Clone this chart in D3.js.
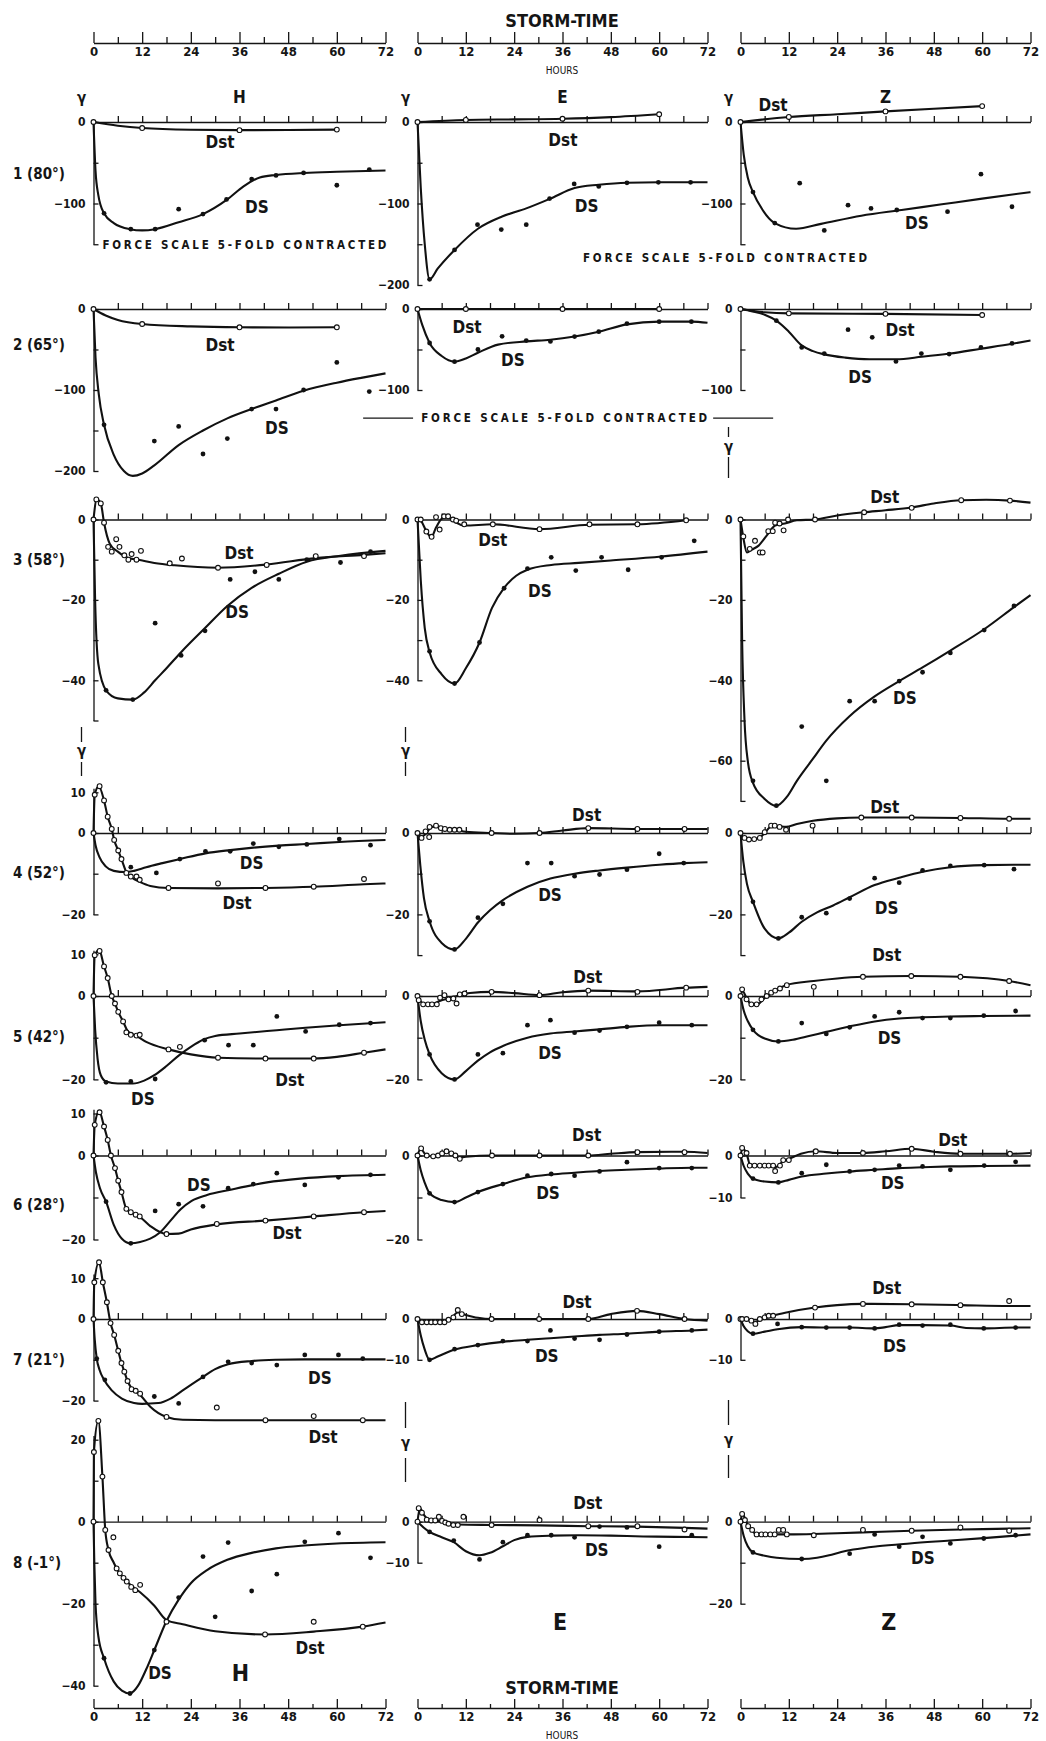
<!DOCTYPE html>
<html lang="en">
<head>
<meta charset="UTF-8" />
<title>Storm-time variation DS and Dst</title>
<style>
  body { margin: 0; background: #fff; }
  svg { display: block; background: #fff; }
  text {
    font-family: "DejaVu Sans Condensed", "Liberation Sans Narrow", "DejaVu Sans", sans-serif;
    font-stretch: condensed;
    fill: #151515;
  }
  .b { font-weight: bold; }
  .axis path, .axis line { stroke: #151515; stroke-width: 1.3; fill: none; }
  .curve { fill: none; stroke: #111; stroke-width: 2.1; stroke-linejoin: round; }
  .dot { fill: #111; }
  .ring { fill: #fff; stroke: #111; stroke-width: 1.1; }
</style>
</head>
<body>
<svg width="1046" height="1741"></svg>
<script src="https://d3js.org/d3.v7.min.js"></script>
<script>
// ---- tick labels / categories ----
const hourTicks = [0, 12, 24, 36, 48, 60, 72];
const halfTicks = [6, 18, 30, 42, 54, 66];
const zeroTicks = [6, 12, 18, 24, 30, 36, 42, 48, 54, 60, 66, 72];
const compNames = ["H", "E", "Z"];
const stationLabels = ["1 (80°)", "2 (65°)", "3 (58°)", "4 (52°)", "5 (42°)", "6 (28°)", "7 (21°)", "8 (-1°)"];

// ---- values [storm-time hours, gamma] ----
// station 1 (80°)
const dst_H1 = [[0,0],[6,-4.5],[12,-7.4],[24,-9.5],[36,-10],[48,-9.8],[60,-9.3]];
const dstPts_H1 = [[0,0],[12,-7.4],[36,-10],[60,-9.3]];
const ds_H1 = [[0,0],[0.5,-60],[1.2,-90],[2.6,-112],[5,-124],[9,-131.5],[12,-133],[15.2,-131.5],[21,-123],[27,-113],[33,-95],[37,-79],[41,-68],[45,-65],[52,-62.5],[60,-61],[72,-59.5]];
const dsPts_H1 = [[2.6,-112],[9.2,-131.5],[15.2,-131.5],[21,-107],[27,-113],[32.8,-95],[39,-70],[45,-65.5],[51.8,-62.5],[60,-77.6],[68,-58.4]];
const dst_E1 = [[0,0],[12,2.5],[24,3.2],[36,4],[48,6],[60,9.5]];
const dstPts_E1 = [[0,0],[12,2.5],[36,4],[60,9.5]];
const ds_E1 = [[0,0],[0.8,-80],[1.8,-150],[3,-193],[5,-180],[9.2,-157],[15,-131],[21,-116],[27,-106],[33,-94],[39,-81],[45,-77],[52,-74.5],[60,-74],[72,-74]];
const dsPts_E1 = [[3,-193],[9.2,-157],[14.9,-126],[20.8,-132],[27,-126],[32.8,-94],[38.9,-76],[45,-79],[52,-74.6],[59.8,-74],[67.8,-74]];
const dst_Z1 = [[0,0],[12,6.2],[24,9.5],[36,13],[48,16.3],[60,19.5]];
const dstPts_Z1 = [[0,0],[12,6.2],[36,13],[60,19.5]];
const ds_Z1 = [[0,0],[0.8,-40],[1.8,-68],[3.1,-86],[5.5,-108],[8.5,-124],[13.8,-131],[20,-125],[30,-115],[40,-108],[50,-101],[60,-94],[72,-86]];
const dsPts_Z1 = [[3.1,-86],[8.5,-124],[14.7,-75],[20.8,-133],[26.7,-102],[32.4,-106],[38.8,-108],[51.4,-110],[59.7,-64],[67.4,-104]];
// station 2 (65°)
const dst_H2 = [[0,0],[3,-8],[6,-13.5],[12,-18.5],[24,-21.5],[36,-22.6],[48,-22.8],[60,-22.6]];
const dstPts_H2 = [[0,0],[12,-18.5],[36,-22.6],[60,-22.6]];
const ds_H2 = [[0,0],[0.5,-60],[1.3,-105],[2.6,-143],[5,-180],[7.5,-200],[9.7,-206],[12,-203],[15,-193],[21,-168],[27,-150],[33,-135],[39,-123.5],[45,-113],[51.8,-101],[60,-91],[66,-85],[72,-79.5]];
const dsPts_H2 = [[2.6,-143],[15,-163],[21,-145],[27,-179],[33,-160],[39,-123.5],[45,-123.5],[51.8,-100],[60,-66],[68,-102]];
const dst_E2 = [[0,0],[12,0],[36,0],[60,0]];
const dstPts_E2 = [[0,0],[12,0],[36,0],[60,0]];
const ds_E2 = [[0,0],[1.2,-20],[3,-42],[6,-58],[9.2,-65],[12,-61],[15,-54],[20,-44],[27,-40],[33,-38],[39,-34],[45,-28],[52,-19],[60,-15.6],[68,-15.6],[72,-17]];
const dsPts_E2 = [[3,-42],[9.2,-65],[15,-50],[21,-33.7],[27,-39],[33,-40],[39,-34],[45,-28],[52,-18],[60,-15.6],[68,-15.6]];
const dst_Z2 = [[0,0],[6,-4],[12,-5.4],[36,-6],[60,-7.4]];
const dstPts_Z2 = [[0,0],[12,-5.4],[36,-6],[60,-7.4]];
const ds_Z2 = [[0,0],[3,-3],[6,-7],[8.9,-14.4],[12,-28],[15.2,-45],[18,-52],[20.8,-56],[26,-60],[32,-62],[38.6,-62],[45,-59],[52,-55],[59.7,-49],[67.4,-43],[72,-39]];
const dsPts_Z2 = [[8.9,-14.4],[15.2,-47.4],[20.8,-55],[26.7,-25.5],[32.7,-35],[38.6,-64.7],[44.9,-55],[51.8,-55.6],[59.7,-47.4],[67.4,-42.5]];
// station 3 (58°)
const dst_H3 = [[0,0],[0.8,5],[1.8,4],[2.6,-0.8],[4,-6],[6,-8],[8.6,-9.6],[11,-10],[15,-10.8],[20,-11.4],[30.7,-12],[42.7,-11.2],[54.8,-9.6],[66.7,-8.8],[72,-8.4]];
const dstPts_H3 = [[0,0],[0.7,5],[1.8,4],[2.6,-0.8],[3.6,-6.8],[4.5,-8],[5.6,-4.9],[6.4,-6.8],[7.6,-8.9],[8.6,-10],[9.4,-8.6],[10.6,-10],[11.7,-7.8],[18.8,-10.9],[21.8,-9.7],[30.7,-12],[42.7,-11.3],[54.8,-9.1],[66.7,-9.1]];
const ds_H3 = [[0,0],[0.4,-20],[1.2,-36],[3.1,-42.5],[6,-44.5],[9.7,-44.8],[12.5,-43],[15.2,-40],[18,-37],[21.6,-33],[27.5,-27],[33,-21.5],[39,-17],[45.7,-13.5],[52.6,-10.5],[60.9,-9],[72,-7.8]];
const dsPts_H3 = [[3.1,-42.5],[9.7,-44.8],[15.2,-25.8],[21.6,-33.8],[27.5,-27.7],[33.7,-14.9],[39.8,-13],[45.7,-14.9],[52.6,-10],[60.9,-10.7],[68.3,-8]];
const dst_E3 = [[0,0],[0.8,-0.3],[2,-2.5],[3.4,-4.4],[4.6,-2],[6.6,0.7],[8.3,0.2],[9.6,-0.8],[11.6,-1.5],[18.7,-1.2],[30.3,-2.4],[42.7,-1.3],[54.6,-1.2],[66.7,-0.2]];
const dstPts_E3 = [[0,0],[0.8,0],[2.2,-3],[3.5,-4.3],[4.6,0.6],[5.5,-2.5],[6.6,0.8],[7.6,0.8],[8.8,0],[9.6,-0.3],[11.6,-1.2],[18.7,-1.2],[30.3,-2.4],[42.7,-1.2],[54.6,-1.2],[66.7,-0.2]];
const ds_E3 = [[0,0],[0.8,-15],[1.8,-27],[3,-33],[6,-38.5],[9.2,-40.8],[12,-37],[15.4,-30.6],[18.5,-22],[21.5,-17],[24.5,-14],[27.3,-12.5],[33.2,-11.3],[40,-10.8],[48,-10.2],[60.6,-9.2],[72,-8]];
const dsPts_E3 = [[3,-32.8],[9.2,-40.8],[15.4,-30.6],[21.5,-17.1],[27.3,-12.2],[33.2,-9.4],[39.3,-12.7],[45.7,-9.4],[52.3,-12.5],[60.6,-9.4],[68.7,-5.3]];
const dst_Z3 = [[0,0],[0.7,-4.5],[1.6,-8.2],[2.8,-7.5],[4.5,-6.5],[6.5,-4],[8.6,-1.5],[11,-1],[14,-0.2],[18.5,0],[24,1],[30.7,1.8],[36,2.3],[42.5,3],[48,4],[54.8,4.8],[61,4.9],[66.9,4.7],[72,4.2]];
const dstPts_Z3 = [[0,0],[0.7,-4.2],[2.3,-7.3],[3.6,-5.3],[4.8,-8.2],[5.5,-8.2],[6.9,-2.9],[8,-2.9],[8.6,-0.8],[9.7,-1],[10.7,-2.7],[11.8,0],[18.5,0],[30.7,1.8],[42.5,2.9],[54.8,4.8],[66.9,4.7]];
const ds_Z3 = [[0,0],[0.4,-30],[1,-50],[1.8,-60],[3.1,-65.5],[6,-69.5],[8.9,-71.2],[11.5,-69],[14,-65],[18,-59.5],[21.3,-55],[27,-49],[33.3,-44],[39.4,-40.2],[45.2,-36.8],[52.1,-32.6],[60.5,-27.3],[67.9,-21.8],[72,-18.8]];
const dsPts_Z3 = [[3.1,-65],[8.9,-71.2],[15.2,-51.5],[21.3,-65],[27.1,-45.2],[33.3,-45.2],[39.4,-40.2],[45.2,-38],[52.1,-33.2],[60.5,-27.5],[67.9,-21.5]];
// station 4 (52°)
const dst_H4 = [[0,0],[0.3,9.4],[1.3,11.5],[2.6,8],[3.5,4],[4.5,1],[5.1,-1.7],[6.1,-4.3],[6.9,-6.4],[8.1,-9.6],[9.5,-11],[11.4,-12],[14,-13],[18.5,-13.5],[30.7,-13.6],[42.4,-13.5],[54.3,-13.2],[66.7,-12.6],[72,-12.4]];
const dstPts_H4 = [[0,0],[0.3,9.4],[1.5,11.5],[2.6,8],[3.5,4],[4.5,1],[5.1,-1.7],[6.1,-4.3],[6.9,-6.4],[8.1,-9.8],[9.2,-10.7],[10.6,-10.7],[11.4,-11.5],[18.5,-13.5],[30.7,-12.4],[42.4,-13.5],[54.3,-13.2],[66.7,-11.3]];
const ds_H4 = [[0,0],[0.5,-3],[1.5,-6],[3,-8.2],[5,-9.3],[8,-9.6],[10,-9.3],[13,-8.4],[17,-7.4],[21.3,-6.4],[27.6,-5],[33.7,-4.2],[39.4,-3.6],[45.7,-3.1],[52.6,-2.7],[60.6,-2.2],[72,-1.7]];
const dsPts_H4 = [[9.2,-8.4],[15.5,-9.8],[21.3,-6.4],[27.6,-4.5],[33.7,-4.5],[39.4,-2.6],[45.7,-3.4],[52.6,-2.8],[60.6,-1.5],[68.3,-3]];
const dst_E4 = [[0,0],[1,-0.8],[2,-0.3],[3.5,1.5],[5,1.6],[7,1],[9.5,0.8],[12,0.3],[18.4,0],[24,-0.2],[30.3,0],[36,0.6],[42.4,1.2],[54.6,1],[66.3,1],[72,1]];
const dstPts_E4 = [[0,0],[1,-1.2],[2,0.4],[2.9,-1],[3,1.5],[4.6,1.8],[5.8,1.2],[6.8,1],[8,0.8],[9.2,0.8],[10.4,0.8],[18.4,0],[30.3,0],[42.4,1.2],[54.6,1],[66.3,1]];
const ds_E4 = [[0,0],[0.7,-8],[1.6,-16],[3,-21.7],[6,-27],[9.2,-28.6],[12,-26],[15,-22],[18,-19],[21.2,-16.5],[27.3,-13.2],[33,-11.2],[39,-10],[45.2,-9.2],[52,-8.5],[60,-7.8],[66.1,-7.4],[72,-7.2]];
const dsPts_E4 = [[3,-21.7],[9.2,-28.6],[15,-20.8],[21.2,-17.4],[27.3,-7.4],[33.2,-7.4],[39,-10.6],[45.2,-10.2],[52,-9],[60,-5.1],[66.1,-7.4]];
const dst_Z4 = [[0,0],[0.8,-1.2],[2,-1.6],[3.5,-1.5],[4.8,-1.1],[6,0],[7.6,1.6],[9,1.7],[11.3,1.5],[14,2.2],[18,3],[24,3.6],[30,3.8],[42.5,3.8],[54.6,3.7],[66.7,3.5],[72,3.5]];
const dstPts_Z4 = [[0,0],[1,-1.2],[2.1,-1.6],[3.4,-1.5],[4.8,-1.2],[6,0.2],[7.6,1.8],[8.5,1.8],[9.7,1.5],[11.3,0.8],[17.9,1.8],[30,3.8],[42.5,3.8],[54.6,3.7],[66.7,3.5]];
const ds_Z4 = [[0,0],[0.7,-7],[1.6,-12.5],[3.1,-16.9],[6,-23.5],[9.4,-25.9],[12,-24.5],[15.2,-21.8],[19,-19.5],[23,-17.8],[27.1,-15.8],[33.3,-12.8],[39.4,-11],[45.2,-9.5],[52.1,-8.4],[60.5,-7.9],[67.9,-7.8],[72,-7.8]];
const dsPts_Z4 = [[3.1,-16.9],[9.4,-25.9],[15.2,-20.7],[21.3,-19.7],[27.1,-16.1],[33.3,-11.1],[39.4,-12.2],[45.2,-9.2],[52.1,-8.1],[60.5,-7.9],[67.9,-8.9]];
// station 5 (42°)
const dst_H5 = [[0,0],[0.3,9.8],[1.4,11],[2.6,7.1],[3.5,4.3],[4.5,0],[5.3,-1.8],[6.1,-3.8],[7.3,-6.1],[8.5,-8.5],[10.5,-9.5],[13,-11],[18.5,-12.8],[24,-14],[30.7,-14.8],[42.4,-15],[54.3,-15],[60,-14.6],[66.7,-13.6],[72,-12.8]];
const dstPts_H5 = [[0,0],[0.3,9.8],[1.5,10.8],[2.6,7.1],[3.5,4.3],[4.5,0],[5.3,-1.8],[6.1,-3.8],[7.3,-6.1],[8.1,-8.7],[9.2,-9.3],[10.6,-9.5],[11.4,-9.3],[18.5,-12.8],[21.3,-12.2],[30.7,-14.8],[42.4,-15],[54.3,-15],[66.7,-13.6]];
const ds_H5 = [[0,0],[0.4,-8],[1,-15],[1.8,-19],[3.1,-20.5],[6,-21],[9.7,-21],[12.5,-20.3],[15,-19],[18,-16.8],[21,-14.3],[24,-12.2],[27,-10.5],[30,-9.6],[36,-9],[45.2,-8.2],[52.3,-7.6],[60.6,-7],[72,-6.3]];
const dsPts_H5 = [[3.1,-20.7],[9.2,-20.5],[15.2,-19.9],[27.4,-10.6],[33.3,-11.8],[39.4,-11.8],[45.2,-4.9],[52.3,-8.5],[60.6,-6.9],[68.3,-6.5]];
const dst_E5 = [[0,0],[1.4,-1.8],[3.5,-2],[5.5,-1.2],[8,-0.5],[10.5,0.2],[13,0.7],[18.4,1],[24,0.7],[30.3,0.2],[36,0.9],[42.4,1.3],[54.6,1.1],[66.7,2],[72,2.2]];
const dstPts_E5 = [[0,0],[0.3,-1],[1.4,-2],[2.6,-2],[3.6,-2],[4.8,-2],[5.6,-0.4],[6.7,0.2],[7.7,-0.8],[8.9,-0.6],[9.7,-1.8],[10.5,0.4],[11.7,0.6],[18.4,1],[30.3,0.2],[42.4,1.3],[54.6,1],[66.7,2]];
const ds_E5 = [[0,0],[0.8,-6],[1.8,-10.5],[3,-14],[6,-18.5],[9.2,-20],[12,-18],[15,-15.5],[18,-13.5],[21.2,-12],[27.3,-10],[33,-9],[39,-8.5],[45.2,-8],[52,-7.4],[60,-7],[72,-7]];
const dsPts_E5 = [[3,-14],[9.2,-20],[15,-14],[21.2,-13.7],[27.3,-7],[33,-5.8],[39,-8.8],[45.2,-8.3],[52,-7.4],[60,-6.4],[68.1,-7]];
const dst_Z5 = [[0,0],[0.5,1.2],[1.5,-0.5],[2.7,-2],[4.3,-2],[5.6,-0.8],[6.8,0],[8.6,1.3],[11.3,2.6],[18.2,3.6],[24,4.2],[30.4,4.6],[42.4,4.8],[54.6,4.6],[66.7,3.6],[72,2.6]];
const dstPts_Z5 = [[0,0],[0.4,1.6],[1.5,-0.8],[2.7,-2],[4,-2],[5.2,-0.8],[6.5,0],[7.6,0.8],[8.6,1.3],[9.8,1.8],[11.5,2.6],[18.2,2.2],[30.4,4.6],[42.4,4.8],[54.6,4.6],[66.7,3.6]];
const ds_Z5 = [[0,0],[0.8,-3.5],[1.8,-6],[3.1,-8.1],[6,-10.2],[9.4,-10.9],[13,-10.5],[17,-9.6],[21.3,-8.6],[27.1,-7.3],[33.3,-6.1],[39.4,-5.4],[45.2,-5.1],[52.1,-4.9],[60.4,-4.8],[72,-4.7]];
const dsPts_Z5 = [[3.1,-8.1],[9.4,-10.9],[15.2,-6.5],[21.3,-9.1],[27.1,-7.5],[33.3,-4.9],[39.4,-3.9],[45.2,-5.3],[52.1,-5.3],[60.4,-4.7],[68.3,-3.6]];
// station 6 (28°)
const dst_H6 = [[0,0],[0.3,7.3],[1.4,10.5],[2.6,6.9],[3.5,3.7],[4.3,0],[5.3,-3],[6.1,-6],[6.9,-8.7],[8.1,-12.7],[9.2,-13.5],[10.4,-14.1],[11.4,-14.6],[14,-16.8],[18,-18.7],[21,-18.6],[24,-17.6],[30.4,-16.4],[42.4,-15.5],[54.3,-14.5],[66.7,-13.5],[72,-13.2]];
const dstPts_H6 = [[0,0],[0.3,7.3],[1.5,10.3],[2.6,6.9],[3.5,3.7],[4.3,0],[5.3,-3],[6.1,-6],[6.9,-8.7],[8.1,-12.7],[9.2,-13.5],[10.4,-14.1],[11.4,-14.5],[18,-18.7],[30.4,-16.3],[42.4,-15.5],[54.3,-14.5],[66.7,-13.5]];
const ds_H6 = [[0,0],[0.6,-4],[1.6,-7.8],[3.1,-11],[5,-16.5],[7,-19.8],[9.2,-20.9],[11.5,-20.6],[14,-19.8],[16.3,-18.4],[19,-15.5],[21.5,-12.8],[24.2,-10.8],[28,-9.4],[33.5,-8.2],[42.8,-6.4],[51,-5.5],[60.4,-4.9],[72,-4.6]];
const dsPts_H6 = [[3.1,-11],[9.2,-20.9],[15.2,-13.2],[21,-11.6],[27,-12.1],[33.2,-7.8],[39.4,-6.8],[45.2,-4.2],[52.1,-7],[60.4,-5.2],[68.3,-4.6]];
const dst_E6 = [[0,0],[0.8,1.6],[2,0.2],[3.5,-0.2],[5.5,0.3],[7,0.9],[8.5,0.4],[10,-0.5],[12,-0.3],[18.5,0],[30.3,0],[42.4,0],[48,0.4],[54.6,0.8],[66.3,0.9],[72,0.6]];
const dstPts_E6 = [[0,0],[0.9,1.7],[2.3,0],[3.9,-0.2],[5.1,0],[6.1,0.5],[7.2,1],[8.4,0.5],[9.4,0],[10.5,-0.8],[18.5,0],[30.3,0],[42.4,0],[54.6,0.8],[66.3,0.8]];
const ds_E6 = [[0,0],[0.8,-3.5],[1.8,-6.5],[3,-9],[6,-10.6],[9.2,-11.1],[12,-10],[15,-8.7],[21.2,-6.8],[27.3,-5.2],[33.2,-4.5],[39,-4.1],[45.2,-3.7],[52,-3.4],[60,-3.1],[68.1,-2.9],[72,-2.9]];
const dsPts_E6 = [[3,-9],[9.2,-11.1],[15,-8.7],[21.2,-6.8],[27.3,-4.8],[33.2,-4.4],[39,-4.8],[45.2,-3.8],[52,-1.6],[60,-3],[68.1,-3]];
const dst_Z6 = [[0,0],[0.5,1.6],[1.5,0.5],[2.3,-2],[4,-2.4],[7,-2.4],[8.6,-2.8],[10.6,-1.4],[12.5,-0.6],[15,0.4],[18.7,1],[24,0.6],[30.4,0.6],[36,1],[42.5,1.6],[48,0.9],[54.6,0.4],[66.9,0.4],[72,0.6]];
const dstPts_Z6 = [[0,0],[0.4,1.8],[1.5,0.6],[2.3,-2.4],[3.5,-2.4],[4.8,-2.4],[6,-2.4],[7,-2.4],[8.1,-2.4],[8.6,-3.7],[9.8,-2.4],[10.6,-1.1],[12,-1.1],[18.7,1],[30.4,0.6],[42.5,1.6],[54.6,0.4],[66.9,0.4]];
const ds_Z6 = [[0,0],[0.8,-2.5],[1.8,-4.3],[3.1,-5.5],[6,-6.2],[9.4,-6.4],[12,-5.8],[15.2,-5],[21.3,-4.3],[27.1,-3.8],[33.3,-3.4],[39.4,-3],[45.2,-2.8],[52.1,-2.6],[60.5,-2.5],[72,-2.4]];
const dsPts_Z6 = [[3.1,-5.5],[9.4,-6.4],[15.2,-4.2],[21.3,-2.2],[27.1,-3.8],[33.3,-3.4],[39.4,-2.4],[45.2,-2.6],[52.1,-3.4],[60.5,-2.4],[68.3,-1.5]];
// station 7 (21°)
const dst_H7 = [[0,0],[0.2,9],[1.36,13.9],[2.3,9],[3.3,4.1],[4.2,-1],[5.1,-3.9],[6.1,-7.8],[6.9,-10.8],[7.6,-12.9],[8.4,-15.2],[9.4,-17],[11.5,-18.6],[14,-21.5],[18,-24],[22,-24.7],[30,-24.8],[72,-24.8]];
const dstPts_H7 = [[0,0],[0.2,9],[1.36,13.9],[2.3,9],[3.3,4.1],[4.2,-1],[5.1,-3.9],[6.1,-7.8],[6.9,-10.8],[7.6,-12.9],[8.4,-15.2],[9.4,-17.2],[10.4,-17.6],[11.5,-18.3],[18,-24],[30.4,-21.7],[42.4,-24.8],[54.3,-23.8],[66.4,-24.8]];
const ds_H7 = [[0,0],[0.3,-5],[0.8,-9.7],[1.5,-12.5],[2.6,-14.9],[4.5,-17.5],[7,-19.5],[10,-20.6],[12,-20.8],[16,-20.6],[19,-19.5],[22,-17.5],[27,-14.2],[30,-12.3],[33.2,-11.1],[39,-10.3],[45,-10],[52,-9.9],[72,-9.9]];
const dsPts_H7 = [[0.8,-9.7],[2.8,-14.9],[15,-19],[21,-20.7],[27,-14.2],[33.2,-10.5],[39,-10.8],[45.2,-11.3],[52.1,-8.8],[60.4,-8.8],[66.4,-9.7]];
const dst_E7 = [[0,0],[1,-0.7],[6,-0.8],[8,-0.2],[10,1.6],[12,1],[15,0.3],[18.4,0],[30.2,0],[42.4,0],[48,1.2],[54.5,2],[60,1.2],[66.3,0],[72,-0.4]];
const dstPts_E7 = [[0,0],[1.1,-0.8],[2.3,-0.8],[3.4,-0.8],[4.4,-0.8],[5.6,-0.8],[6.7,-0.8],[7.7,-0.2],[8.9,0.4],[10,2.2],[11,1.2],[18.4,0],[30.2,0],[42.4,0],[54.5,2],[66.3,0]];
const ds_E7 = [[0,0],[0.8,-4],[1.8,-7.5],[3,-10],[5,-9.2],[9.2,-7.5],[15,-6.4],[21.2,-5.6],[27.3,-5.1],[33,-4.7],[39,-4.3],[45.2,-3.9],[52,-3.6],[60,-3.1],[68.1,-2.8],[72,-2.6]];
const dsPts_E7 = [[3,-10],[9.2,-7.4],[15,-6.4],[21.2,-5.4],[27.3,-5.4],[33,-2.8],[39,-4.8],[45.2,-5.1],[52,-3.8],[60,-3.1],[68.1,-2.8]];
const dst_Z7 = [[0,0],[1.5,-0.2],[3.5,-0.7],[5,-0.2],[8,0.8],[12,1.7],[18.5,2.8],[24,3.4],[30.4,3.7],[42.5,3.6],[54.6,3.4],[66.7,3.2],[72,3.2]];
const dstPts_Z7 = [[0,0],[0.4,0],[1.5,0],[2.7,-0.4],[3.7,-1.2],[4.8,0],[6,0.4],[7,0.8],[8.1,0.8],[18.5,2.8],[30.4,3.7],[42.5,3.6],[54.6,3.4],[66.7,4.4]];
const ds_Z7 = [[0,0],[0.8,-1.8],[1.8,-3],[3.1,-3.6],[6,-3.1],[9.2,-2.5],[15.2,-2],[21.3,-2.1],[27.1,-2.1],[33.3,-2.3],[36,-2],[39.4,-1.5],[45.2,-1.5],[52.1,-1.6],[56,-2.2],[60.4,-2.3],[68.3,-2.1],[72,-2.1]];
const dsPts_Z7 = [[3.1,-3.6],[9.2,-1.2],[15.2,-2],[21.3,-2.1],[27.1,-2.1],[33.3,-2.3],[39.4,-1.4],[45.2,-1.6],[52.1,-1.4],[60.4,-2.3],[68.3,-2.1]];
// station 8 (-1°)
const dst_H8 = [[0,0],[0.1,17],[1.2,24.6],[2.2,11],[2.9,-2],[3.7,-6.9],[5,-10],[5.7,-11.4],[7.4,-13.7],[9.3,-15.6],[11.5,-17.2],[15,-20.5],[18,-24],[22,-25],[30,-26.7],[42.3,-27.5],[54.3,-26.8],[66.4,-25.6],[72,-24.6]];
const dstPts_H8 = [[0,0],[0.1,17],[1.2,24.6],[2.2,11],[2.9,-2],[3.7,-6.9],[4.9,-3.8],[5.7,-11.4],[6.5,-12.6],[7.4,-13.7],[8.2,-14.6],[9.3,-15.9],[10.3,-16.7],[11.5,-15.4],[18,-24.4],[42.3,-27.5],[54.3,-24.4],[66.4,-25.6]];
const ds_H8 = [[0,0],[0.2,-10],[0.5,-20],[1.2,-28],[2.6,-33.3],[5,-39],[7,-41.2],[9,-41.9],[11,-40],[13,-36],[15,-31.3],[18,-24.2],[21,-19],[24,-15],[28,-11.8],[33,-9.3],[39,-7.6],[45,-6.5],[52,-5.8],[60,-5.3],[72,-5]];
const dsPts_H8 = [[2.6,-33.3],[9,-41.9],[15,-31.3],[18,-24.4],[21,-18.5],[27,-8.5],[30,-23.2],[33.2,-5.1],[39,-16.9],[45.2,-12.8],[52.1,-4.9],[60.4,-2.8],[68.3,-8.8]];
const dst_E8 = [[0,0],[0.6,3.3],[1.5,1.8],[3,0.4],[5,0.2],[8,-0.5],[10,-0.7],[18.4,-0.8],[30.3,-0.9],[42.4,-1.1],[54.6,-1.2],[66.3,-1.5],[72,-1.7]];
const dstPts_E8 = [[0,0],[0.3,3.3],[1.1,2.2],[2.3,0.5],[3.4,0.3],[4.4,0.3],[5.3,1.2],[6.1,0.2],[6.9,-0.2],[7.7,-0.5],[8.9,-0.8],[10,-0.8],[11.4,1.2],[18.4,-0.8],[30.3,0.4],[42.4,-1.1],[54.6,-1.1],[66.3,-1.9]];
const ds_E8 = [[0,0],[1.5,-1.4],[3,-2.5],[6,-3.8],[9,-5],[12,-7.2],[15.4,-8.2],[18,-7.6],[21.2,-6],[24,-4.5],[27.3,-3.7],[33.2,-3.4],[40,-3.3],[48,-3.4],[56,-3.6],[64,-3.7],[72,-3.8]];
const dsPts_E8 = [[3,-2.5],[9,-4.6],[15.4,-9.2],[21.2,-5],[27.3,-3.3],[33.2,-3.3],[39,-3.8],[45.2,-1.2],[52,-1.4],[60,-6.1],[68.1,-3.3]];
const dst_Z8 = [[0,0],[0.5,1.9],[1.5,-0.2],[2.9,-2.2],[4,-3],[8,-3.1],[12,-3.1],[18.2,-3],[24,-2.8],[30.4,-2.6],[42.5,-2.2],[54.6,-1.9],[66.7,-1.7],[72,-1.6]];
const dstPts_Z8 = [[0,0],[0.4,1.9],[1.1,0.4],[1.9,-1.1],[2.9,-2],[4,-3.1],[5.2,-3.1],[6.2,-3.1],[7.4,-3.1],[8.5,-3.1],[9.5,-2],[10.6,-2],[11.5,-3.1],[18.2,-3.3],[30.4,-2],[42.5,-2.2],[54.6,-1.4],[66.7,-2.2]];
const ds_Z8 = [[0,0],[0.8,-3.5],[1.8,-6],[3.1,-7.5],[6,-8.3],[9,-8.8],[15.2,-9.1],[19,-8.8],[22,-8.2],[25,-7.4],[28,-6.8],[34,-6],[42,-5.3],[52,-4.6],[60.4,-4],[68.3,-3.4],[72,-3.1]];
const dsPts_Z8 = [[3.1,-7.5],[15.2,-9.1],[27.1,-7.8],[33.3,-3.1],[39.4,-6.1],[45.2,-3.7],[52.1,-5.3],[60.4,-4.1],[68.3,-3.3]];

// ---- layout ----
const colRange = [[93.5, 385.5], [417.5, 707.5], [740.5, 1030.5]];
const rowZero = [122, 309, 519.5, 833, 996, 1155.5, 1319, 1521.7];
const rowPx = [0.815, 0.81, 4.02, 4.07, 4.17, 4.2, 4.08, 4.1];
const rowLabelY = [174, 345, 560, 873, 1037, 1205, 1360, 1563];

// axis spans [top, bottom], tick step, labelled values, and note positions [text, hour, gamma]
const panels = [
  {r:0,c:0,dst:dst_H1,dstP:dstPts_H1,ds:ds_H1,dsP:dsPts_H1,span:[0,-150],step:50,lab:[0,-100],notes:[["Dst",31.2,-24.5],["DS",40.3,-104]]},
  {r:0,c:1,dst:dst_E1,dstP:dstPts_E1,ds:ds_E1,dsP:dsPts_E1,span:[0,-200],step:50,lab:[0,-100,-200],notes:[["Dst",36.1,-22],["DS",42,-103]]},
  {r:0,c:2,dst:dst_Z1,dstP:dstPts_Z1,ds:ds_Z1,dsP:dsPts_Z1,span:[0,-150],step:50,lab:[0,-100],notes:[["Dst",8.1,21],["DS",43.8,-124]]},
  {r:1,c:0,dst:dst_H2,dstP:dstPts_H2,ds:ds_H2,dsP:dsPts_H2,span:[0,-200],step:50,lab:[0,-100,-200],notes:[["Dst",31.2,-44.4],["DS",45.2,-147]]},
  {r:1,c:1,dst:dst_E2,dstP:dstPts_E2,ds:ds_E2,dsP:dsPts_E2,span:[0,-100],step:50,lab:[0,-100],notes:[["Dst",12.3,-22],["DS",23.7,-63]]},
  {r:1,c:2,dst:dst_Z2,dstP:dstPts_Z2,ds:ds_Z2,dsP:dsPts_Z2,span:[0,-100],step:50,lab:[0,-100],notes:[["Dst",39.6,-26],["DS",29.7,-84]]},
  {r:2,c:0,dst:dst_H3,dstP:dstPts_H3,ds:ds_H3,dsP:dsPts_H3,span:[0,-50],step:10,lab:[0,-20,-40],notes:[["Dst",35.9,-8.3],["DS",35.4,-23]]},
  {r:2,c:1,dst:dst_E3,dstP:dstPts_E3,ds:ds_E3,dsP:dsPts_E3,span:[0,-40],step:10,lab:[0,-20,-40],notes:[["Dst",18.7,-5],["DS",30.4,-17.9]]},
  {r:2,c:2,dst:dst_Z3,dstP:dstPts_Z3,ds:ds_Z3,dsP:dsPts_Z3,span:[0,-70],step:10,lab:[0,-20,-40,-60],notes:[["Dst",35.8,5.5],["DS",40.8,-44.5]]},
  {r:3,c:0,dst:dst_H4,dstP:dstPts_H4,ds:ds_H4,dsP:dsPts_H4,span:[11,-20],step:10,lab:[10,0,-20],notes:[["DS",39,-7.4],["Dst",35.4,-17.2]]},
  {r:3,c:1,dst:dst_E4,dstP:dstPts_E4,ds:ds_E4,dsP:dsPts_E4,span:[0,-30],step:10,lab:[0,-20],notes:[["Dst",42,4.4],["DS",32.9,-15.2]]},
  {r:3,c:2,dst:dst_Z4,dstP:dstPts_Z4,ds:ds_Z4,dsP:dsPts_Z4,span:[0,-30],step:10,lab:[0,-20],notes:[["Dst",35.8,6.4],["DS",36.3,-18.4]]},
  {r:4,c:0,dst:dst_H5,dstP:dstPts_H5,ds:ds_H5,dsP:dsPts_H5,span:[11,-20],step:10,lab:[10,0,-20],notes:[["Dst",48.4,-20.2],["DS",12.2,-24.6]]},
  {r:4,c:1,dst:dst_E5,dstP:dstPts_E5,ds:ds_E5,dsP:dsPts_E5,span:[0,-20],step:10,lab:[0,-20],notes:[["Dst",42.3,4.6],["DS",32.9,-13.7]]},
  {r:4,c:2,dst:dst_Z5,dstP:dstPts_Z5,ds:ds_Z5,dsP:dsPts_Z5,span:[0,-20],step:10,lab:[0,-20],notes:[["Dst",36.3,9.9],["DS",37,-10.1]]},
  {r:5,c:0,dst:dst_H6,dstP:dstPts_H6,ds:ds_H6,dsP:dsPts_H6,span:[11,-20],step:10,lab:[10,0,-20],notes:[["DS",26,-7.1],["Dst",47.7,-18.4]]},
  {r:5,c:1,dst:dst_E6,dstP:dstPts_E6,ds:ds_E6,dsP:dsPts_E6,span:[0,-20],step:10,lab:[0,-20],notes:[["Dst",42,4.9],["DS",32.4,-9]]},
  {r:5,c:2,dst:dst_Z6,dstP:dstPts_Z6,ds:ds_Z6,dsP:dsPts_Z6,span:[0,-10],step:10,lab:[0,-10],notes:[["Dst",52.7,3.7],["DS",37.8,-6.6]]},
  {r:6,c:0,dst:dst_H7,dstP:dstPts_H7,ds:ds_H7,dsP:dsPts_H7,span:[11,-20],step:10,lab:[10,0,-20],notes:[["DS",55.8,-14.4],["Dst",56.6,-28.8]]},
  {r:6,c:1,dst:dst_E7,dstP:dstPts_E7,ds:ds_E7,dsP:dsPts_E7,span:[0,-10],step:10,lab:[0,-10],notes:[["Dst",39.6,4.1],["DS",32.1,-9]]},
  {r:6,c:2,dst:dst_Z7,dstP:dstPts_Z7,ds:ds_Z7,dsP:dsPts_Z7,span:[0,-10],step:10,lab:[0,-10],notes:[["Dst",36.3,7.6],["DS",38.3,-6.6]]},
  {r:7,c:0,dst:dst_H8,dstP:dstPts_H8,ds:ds_H8,dsP:dsPts_H8,span:[21,-40],step:10,lab:[20,0,-20,-40],notes:[["DS",16.4,-36.9],["Dst",53.4,-30.8]]},
  {r:7,c:1,dst:dst_E8,dstP:dstPts_E8,ds:ds_E8,dsP:dsPts_E8,span:[0,-10],step:10,lab:[0,-10],notes:[["Dst",42.3,4.6],["DS",44.5,-6.9]]},
  {r:7,c:2,dst:dst_Z8,dstP:dstPts_Z8,ds:ds_Z8,dsP:dsPts_Z8,span:[0,-20],step:10,lab:[0,-20],notes:[["DS",45.3,-8.9]]}
];

// gamma unit marks: column, centre y, short rules above/below
const gammaMarks = [
  {c:0,y:98},{c:1,y:98},{c:2,y:98},
  {c:2,y:447,above:[427,437],below:[457,478]},
  {c:0,y:751,above:[727,742],below:[762,776]},
  {c:1,y:751,above:[727,742],below:[762,776]},
  {c:1,y:1443,above:[1402,1428],below:[1458,1482]},
  {c:2,y:1440,above:[1400,1425],below:[1455,1478]}
];

const svg = d3.select("svg");
const xOf = c => d3.scaleLinear().domain([0, 72]).range(colRange[c]);
const yOf = (r, top, bottom) => d3.scaleLinear()
  .domain([top, bottom])
  .range([rowZero[r] - top * rowPx[r], rowZero[r] - bottom * rowPx[r]]);

// storm-time axes at top and bottom
function stormAxis(yPos, bigTick, smallTick) {
  colRange.forEach((rng, c) => {
    const x = xOf(c);
    const g = svg.append("g").attr("class", "axis").attr("transform", `translate(0,${yPos})`);
    g.call(d3.axisBottom(x).tickValues(hourTicks).tickSizeInner(-bigTick).tickSizeOuter(0).tickPadding(4));
    g.selectAll("text").attr("class", "b").style("font-size", "13px");
    const g2 = svg.append("g").attr("class", "axis").attr("transform", `translate(0,${yPos})`);
    g2.call(d3.axisBottom(x).tickValues(halfTicks).tickSizeInner(-smallTick).tickSizeOuter(0).tickFormat(""));
    g2.select(".domain").remove();
  });
}
stormAxis(43, 11, 6);
stormAxis(1708, 9, 4);

function caption(txt, x, y, size, bold) {
  const t = svg.append("text").attr("x", x).attr("y", y)
    .attr("text-anchor", "middle").attr("dominant-baseline", "central")
    .style("font-size", size + "px").text(txt);
  if (bold) t.attr("class", "b");
  return t;
}
caption("STORM-TIME", 562, 20, 18, true);
caption("HOURS", 562, 70, 10, false);
caption("STORM-TIME", 562, 1687, 18, true);
caption("HOURS", 562, 1735, 10, false);

// component titles
compNames.forEach((n, c) => {
  const x = xOf(c);
  caption(n, x(36), 97, 17, true);
});

// station labels
stationLabels.forEach((s, r) => {
  svg.append("text").attr("class", "b").attr("x", 13).attr("y", rowLabelY[r])
    .attr("dominant-baseline", "central").style("font-size", "15px").text(s);
});

const line = (x, y) => d3.line().x(d => x(d[0])).y(d => y(d[1])).curve(d3.curveMonotoneX);

panels.forEach(p => {
  const x = xOf(p.c);
  const y = yOf(p.r, p.span[0], p.span[1]);
  const g = svg.append("g");

  // zero line with hour ticks
  g.append("g").attr("class", "axis").attr("transform", `translate(0,${y(0)})`)
    .call(d3.axisBottom(x).tickValues(zeroTicks).tickSizeInner(-6).tickSizeOuter(0).tickFormat(""));

  // force axis
  const ticks = d3.range(Math.floor(p.span[0] / p.step) * p.step, p.span[1] - 1e-6, -p.step);
  g.append("g").attr("class", "axis").attr("transform", `translate(${x(0)},0)`)
    .call(d3.axisLeft(y).tickValues(ticks).tickSizeInner(-5).tickSizeOuter(0).tickFormat(""));
  const lab = g.append("g").attr("class", "axis").attr("transform", `translate(${x(0)},0)`)
    .call(d3.axisLeft(y).tickValues(p.lab).tickSize(0).tickPadding(8).tickFormat(d3.format("d")));
  lab.select(".domain").remove();
  lab.selectAll("text").attr("class", "b").style("font-size", "12px");

  // curves
  g.append("path").attr("class", "curve").attr("d", line(x, y)(p.dst));
  g.append("path").attr("class", "curve").attr("d", line(x, y)(p.ds));

  // observations
  g.selectAll(".dot").data(p.dsP).join("circle").attr("class", "dot")
    .attr("cx", d => x(d[0])).attr("cy", d => y(d[1])).attr("r", 2.4);
  g.selectAll(".ring").data(p.dstP).join("circle").attr("class", "ring")
    .attr("cx", d => x(d[0])).attr("cy", d => y(d[1])).attr("r", 2.4);

  // series names
  p.notes.forEach(n => caption(n[0], x(n[1]), y(n[2]), 17, true));
});

// large component letters at the foot
const foot = [["H", 0, 36.2, -36.9], ["E", 1, 35.4, -24.5], ["Z", 2, 36.8, -24.5]];
foot.forEach(f => {
  const x = xOf(f[1]);
  const y = yOf(7, 0, -40);
  caption(f[0], x(f[2]), y(f[3]), 23, true);
});

// force-scale notes
function forceNote(r, c, h, v, len, rules) {
  const x = xOf(c), y = yOf(r, 0, -100);
  svg.append("text").attr("x", x(h)).attr("y", y(v)).attr("dominant-baseline", "central")
    .attr("textLength", len).attr("lengthAdjust", "spacing")
    .style("font-size", "11.5px").style("font-weight", "600").text("FORCE SCALE 5-FOLD CONTRACTED");
  (rules || []).forEach(rr => {
    svg.append("line").attr("x1", x(rr[0])).attr("x2", x(rr[1]))
      .attr("y1", y(v)).attr("y2", y(v)).attr("stroke", "#151515").attr("stroke-width", 1.3);
  });
}
forceNote(0, 0, 2.2, -151, 284);
forceNote(0, 1, 41.1, -167, 284);
forceNote(1, 1, 0.9, -134.6, 286, [[-13.5, -1.1], [73.4, 88.3]]);

// gamma marks
gammaMarks.forEach(m => {
  const gx = colRange[m.c][0] - 12;
  caption("γ", gx, m.y, 15, true);
  [m.above, m.below].forEach(seg => {
    if (!seg) return;
    svg.append("line").attr("x1", gx).attr("x2", gx).attr("y1", seg[0]).attr("y2", seg[1])
      .attr("stroke", "#151515").attr("stroke-width", 1.3);
  });
});
</script>
</body>
</html>
